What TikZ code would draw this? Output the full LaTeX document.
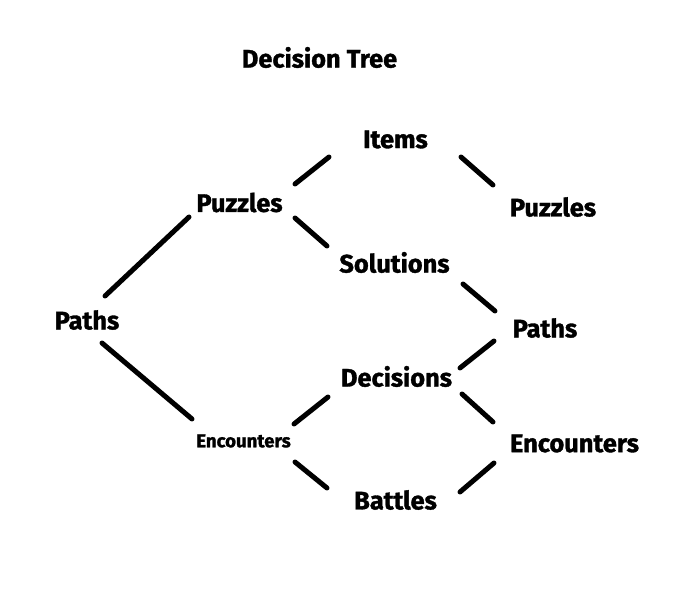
\documentclass[tikz,border=0pt]{standalone}
\usepackage{fontspec}
\setmainfont{Fira Sans}[BoldFeatures={FakeBold=1.3}]

\begin{document}
\begin{tikzpicture}[x=0.5pt,y=-0.5pt,
    word/.style={font=\fontsize{12.7}{14}\selectfont\bfseries,inner sep=0pt},
    smallword/.style={word,font=\fontsize{9.3}{11}\selectfont\bfseries},
    link/.style={line width=2.5pt,line cap=round}]
  \useasboundingbox (0,0) rectangle (691,593);
  \node[word] (title) at (319.5,57.5) {Decision Tree};
  \node[word] (pathL) at (87,320) {Paths};
  \node[word] (puzL) at (239.5,202.5) {Puzzles};
  \node[smallword] (encL) at (243.5,441) {Encounters};
  \node[word] (items) at (395.5,139.5) {Items};
  \node[word] (sol) at (394.5,262.5) {Solutions};
  \node[word] (dec) at (396.5,376.5) {Decisions};
  \node[word] (bat) at (395.5,500) {Battles};
  \node[word] (puzR) at (553,207) {Puzzles};
  \node[word] (pathR) at (545,328) {Paths};
  \node[word] (encR) at (574.5,443.5) {Encounters};
  % short strokes between the words
  \foreach \a/\ax/\ay/\b/\bx/\by in {
      pathL/18/-24/puzL/-50.5/14.5, pathL/15/23/encL/-51.5/-22,
      puzL/55.5/-18.5/items/-66.5/17.5, puzL/55.5/15.5/sol/-67.5/-16.5,
      encL/50.5/-17/dec/-68.5/20.5, encL/51.5/21/bat/-68.5/-12,
      items/65.5/17.5/puzR/-60/-22, sol/68.5/21.5/pathR/-50/-17,
      dec/63.5/-8.5/pathR/-51/13, dec/65.5/17.5/encR/-81.5/-21.5,
      bat/64.5/-8/encR/-80.5/19.5}
    \draw[link] ([shift={(\ax,\ay)}]\a.center) -- ([shift={(\bx,\by)}]\b.center);
\end{tikzpicture}
\end{document}
